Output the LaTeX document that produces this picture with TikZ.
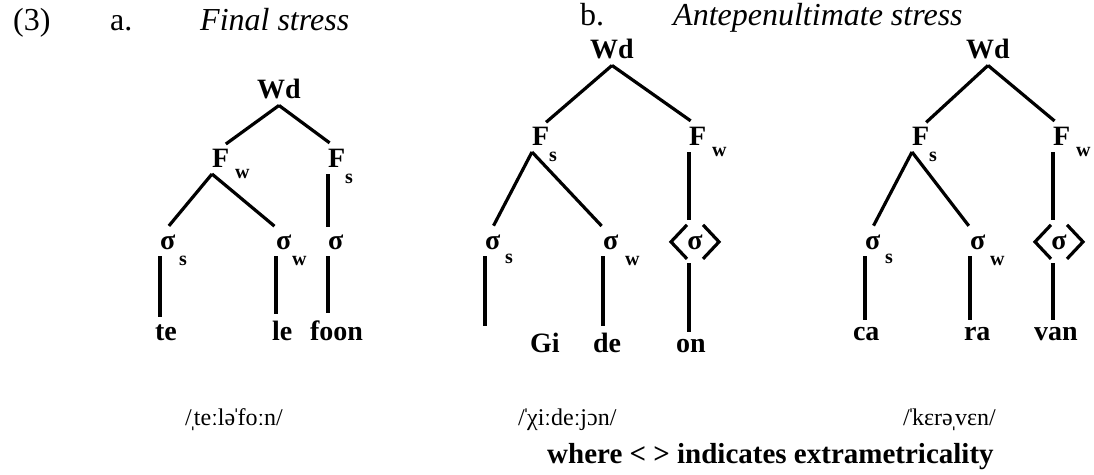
\documentclass[tikz,border=0pt]{standalone}
\usepackage{fontspec}
\setmainfont{Liberation Serif}
\newcommand{\prim}{\kern-.12emˈ\kern-.12em}
\newcommand{\secd}{\kern-.12emˌ\kern-.12em}
\begin{document}
\begin{tikzpicture}[x=1pt, y=-1pt,
    lab/.style={font=\fontsize{28}{30}\selectfont\bfseries, inner sep=0pt, outer xsep=0pt, outer ysep=7pt, anchor=base west},
    sub/.style={font=\fontsize{20}{22}\selectfont\bfseries, inner sep=0pt, anchor=base west},
    ipa/.style={font=\fontsize{24}{26}\selectfont, inner sep=0pt},
    ttl/.style={font=\fontsize{32}{34}\selectfont, inner sep=0pt, anchor=base west},
    edge/.style={line width=3.2pt},
    extra/.style={lab, anchor=base, outer ysep=14pt}]
    \useasboundingbox (0,0) rectangle (1094,474);

    % Titres
    \node[ttl] (num) at (13,30) {(3)};
    \node[ttl] (ta) at (110,30) {a.};
    \node[ttl, font=\fontsize{32}{34}\selectfont\itshape] (tfin) at (200,30) {Final stress};
    \node[ttl] (tb) at (580,25) {b.};
    \node[ttl, font=\fontsize{32}{34}\selectfont\itshape] (tant) at (673,25) {Antepenultimate stress};

    % a : telefoon
    \node[lab, anchor=base] (aWd) at (279,98) {Wd};
    \node[lab] (aFw) at (212,167) {F};
    \node[sub] at (235,178) {w};
    \node[lab] (aFs) at (328,167) {F};
    \node[sub] at (345,183) {s};
    \node[lab] (aSs) at (160,249) {σ};
    \node[sub] at (179,265) {s};
    \node[lab] (aSw) at (276,249) {σ};
    \node[sub] at (292,265) {w};
    \node[lab] (aS) at (328,249) {σ};
    \node[lab] (aTe) at (155,340) {te};
    \node[lab] (aLe) at (272,340) {le};
    \node[lab] (aFoon) at (310,340) {foon};
    \draw[edge, shorten >=-4pt] (aWd.south) -- (aFw.north east);
    \draw[edge, shorten >=-2pt] (aWd.south) -- (aFs.north west);
    \draw[edge, shorten >=2pt] (aFw.south west) -- (aSs.north);
    \draw[edge, shorten >=2pt] (aFw.south west) -- (aSw.north west);
    \draw[edge] (aFs.south west) -- (aS.north west);
    \draw[edge] (aSs.south west) -- (aSs.south west |- aTe.north);
    \draw[edge] (aSw.south west) -- (aSw.south west |- aLe.north);
    \draw[edge] (aS.south west) -- (aS.south west |- aFoon.north);
    \node[ipa, anchor=base east] (aIpa) at (283,425) {/\secd teːlə\prim foːn/};

    % b : Gideon
    \node[lab, anchor=base] (bWd) at (612,58) {Wd};
    \node[lab] (bFs) at (532,145) {F};
    \node[sub] at (549,161) {s};
    \node[lab] (bFw) at (689,145) {F};
    \node[sub] at (712,156) {w};
    \node[lab] (bSs) at (485,249) {σ};
    \node[sub] at (505,263) {s};
    \node[lab] (bSw) at (603,249) {σ};
    \node[sub] at (625,265) {w};
    \node[extra] (bEx) at (695,249) {σ};
    \node[lab] (bGi) at (530,352) {Gi};
    \node[lab] (bDe) at (593,352) {de};
    \node[lab] (bOn) at (676,352) {on};
    \draw[edge, shorten >=-4pt] (bWd.south) -- (bFs.north east);
    \draw[edge, shorten >=-2pt] (bWd.south) -- (bFw.north west);
    \draw[edge, shorten >=2pt] (bFs.south west) -- (bSs.north);
    \draw[edge, shorten >=2pt] (bFs.south west) -- (bSw.north west);
    \draw[edge] (bFw.south west) -- (bFw.south west |- bEx.north);
    \draw[edge] ([shift={(-8,-17)}]bEx.center) -- ([shift={(-24,0)}]bEx.center) -- ([shift={(-8,17)}]bEx.center);
    \draw[edge] ([shift={(8,-17)}]bEx.center) -- ([shift={(24,0)}]bEx.center) -- ([shift={(8,17)}]bEx.center);
    \draw[edge] (bFw.south west |- bEx.south) -- (bFw.south west |- bOn.north);
    \draw[edge] (bSs.south west) -- (bSs.south west |- bGi.north);
    \draw[edge] (bSw.south west) -- (bSw.south west |- bDe.north);
    \node[ipa, anchor=base west] (bIpa) at (518,425) {/\prim χiːdeːjɔn/};

    % b : karavaan
    \node[lab, anchor=base] (cWd) at (988,58) {Wd};
    \node[lab] (cFs) at (912,145) {F};
    \node[sub] at (929,161) {s};
    \node[lab] (cFw) at (1053,145) {F};
    \node[sub] at (1076,156) {w};
    \node[lab] (cSs) at (865,249) {σ};
    \node[sub] at (885,263) {s};
    \node[lab] (cSw) at (970,249) {σ};
    \node[sub] at (990,265) {w};
    \node[extra] (cEx) at (1059,249) {σ};
    \node[lab] (cCa) at (853,340) {ca};
    \node[lab] (cRa) at (964,340) {ra};
    \node[lab] (cVan) at (1034,340) {van};
    \draw[edge, shorten >=-4pt] (cWd.south) -- (cFs.north east);
    \draw[edge, shorten >=-2pt] (cWd.south) -- (cFw.north west);
    \draw[edge, shorten >=2pt] (cFs.south west) -- (cSs.north);
    \draw[edge, shorten >=2pt] (cFs.south west) -- (cSw.north west);
    \draw[edge] (cFw.south west) -- (cFw.south west |- cEx.north);
    \draw[edge] ([shift={(-8,-17)}]cEx.center) -- ([shift={(-24,0)}]cEx.center) -- ([shift={(-8,17)}]cEx.center);
    \draw[edge] ([shift={(8,-17)}]cEx.center) -- ([shift={(24,0)}]cEx.center) -- ([shift={(8,17)}]cEx.center);
    \draw[edge] (cFw.south west |- cEx.south) -- (cFw.south west |- cVan.north);
    \draw[edge] (cSs.south west) -- (cSs.south west |- cCa.north);
    \draw[edge] (cSw.south west) -- (cSw.south west |- cRa.north);
    \node[ipa, anchor=base west] (cIpa) at (903,425) {/\prim kɛrə\secd vɛn/};

    \node[ttl, font=\fontsize{29}{31}\selectfont\bfseries] (note) at (547,463) {where < > indicates extrametricality};
\end{tikzpicture}
\end{document}
